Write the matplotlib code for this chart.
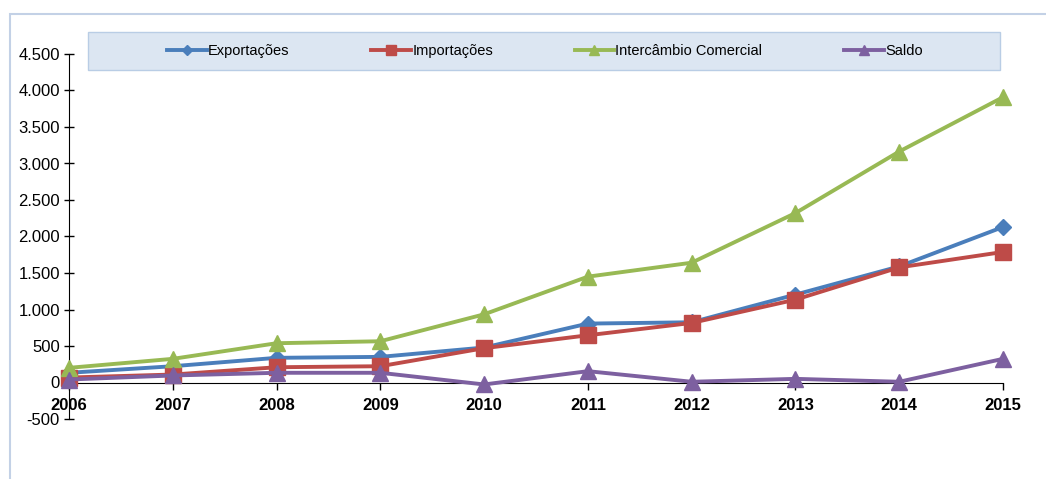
import matplotlib
matplotlib.use('Agg')
import matplotlib.pyplot as plt
import matplotlib.patches as patches
from matplotlib.ticker import FuncFormatter

plt.rcParams['font.family'] = ['Liberation Sans', 'DejaVu Sans']

years = [2006, 2007, 2008, 2009, 2010, 2011, 2012, 2013, 2014, 2015]
exportacoes = [133, 223, 338, 351, 479, 807, 825, 1204, 1590, 2130]
importacoes = [68, 109, 209, 223, 470, 647, 816, 1135, 1577, 1788]
intercambio = [201, 324, 538, 565, 934, 1450, 1641, 2321, 3164, 3908]
saldo = [41, 96, 133, 133, -27, 155, 10, 50, 10, 324]

series = [
    ('Exportações', exportacoes, '#4a7ebb', 'D', 8),
    ('Importações', importacoes, '#be4b48', 's', 11),
    ('Intercâmbio Comercial', intercambio, '#98b954', '^', 11),
    ('Saldo', saldo, '#7d60a0', '^', 11),
]

W, H = 1046, 479
fig = plt.figure(figsize=(W / 100, H / 100), dpi=100)
ax = fig.add_axes([69 / W, 1 - 419 / H, (1003 - 69) / W, (419 - 54) / H])

# outer chart frame (only top and left edges visible)
fig.patches.append(patches.Rectangle((10 / W, -0.1), 1.2, 1.1 - 14 / H,
                                     transform=fig.transFigure, fill=False,
                                     edgecolor='#c3d1e6', lw=1.5))

for name, vals, color, marker, ms in series:
    ax.plot(years, vals, color=color, lw=2.8, marker=marker, markersize=ms,
            label=name, clip_on=False, zorder=3)

ax.set_xlim(2006, 2015)
ax.set_ylim(-500, 4500)
ax.set_yticks(range(-500, 5000, 500))
ax.set_xticks(years)
ax.yaxis.set_major_formatter(FuncFormatter(lambda v, p: f"{int(v):,}".replace(',', '.')))

ax.spines['top'].set_visible(False)
ax.spines['right'].set_visible(False)
ax.spines['bottom'].set_position(('data', 0))
ax.spines['left'].set_color('black')
ax.spines['bottom'].set_color('black')
ax.patch.set_alpha(0)

ax.tick_params(axis='y', direction='inout', length=7, width=1, pad=3, labelsize=12)
ax.tick_params(axis='x', direction='out', length=5, width=1, pad=6, labelsize=12)
for lab in ax.get_xticklabels():
    lab.set_fontweight('bold')

# legend box
fig.patches.append(patches.Rectangle((88 / W, 1 - 70 / H), (1000 - 88) / W, 38 / H,
                                     transform=fig.transFigure, facecolor='#dce6f2',
                                     edgecolor='#b9cde5', lw=1, zorder=0))
fig.legend(loc='center', bbox_to_anchor=(545 / W, 1 - 51 / H), ncol=4, frameon=False,
           fontsize=10.5, columnspacing=5.6, handlelength=2.7, handletextpad=0.1,
           markerscale=0.6)

fig.savefig('out.png', dpi=100)
